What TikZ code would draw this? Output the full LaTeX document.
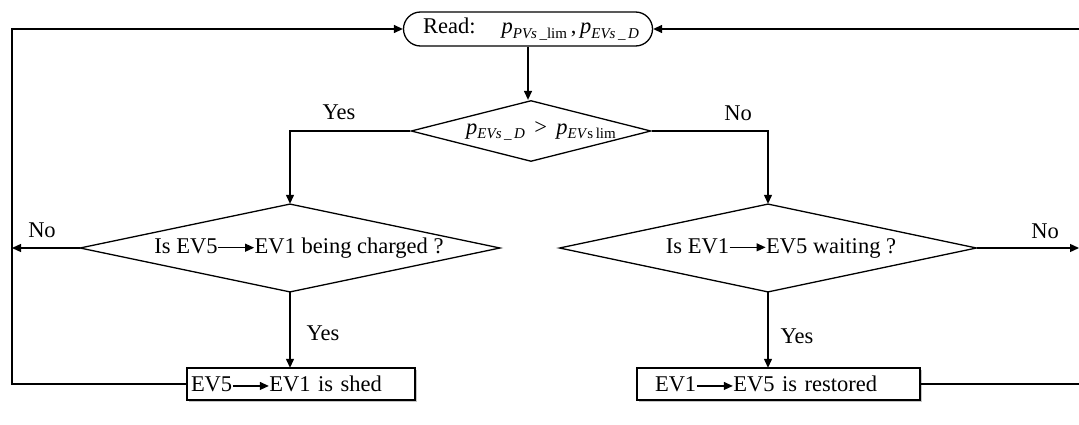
\documentclass[tikz,border=0pt]{standalone}
\usepackage{fontspec}
\setmainfont{Liberation Serif}
\usetikzlibrary{arrows.meta,shapes.geometric,shadows}
\newcommand{\longarr}{\tikz[baseline=-0.55ex]\draw[line width=1.1pt,-{Triangle[length=9pt,width=8pt]}] (0pt,0pt) -- (36pt,0pt);}
\newcommand{\subs}[1]{\raisebox{-0.45ex}{\fontsize{15}{15}\selectfont #1}}
\begin{document}
\begin{tikzpicture}[x=1pt,y=-1pt,
  font=\fontsize{22.5}{25}\selectfont,
  line width=1.3pt,
  arr/.style={-{Triangle[length=9pt,width=8pt]}},
  terminal/.style={draw,rounded corners=17pt,minimum width=249pt,minimum height=34pt,inner sep=0pt},
  decision/.style={draw,diamond,aspect=4.8,inner sep=0pt},
  procbox/.style={draw,fill=white,minimum height=32pt,inner ysep=0pt,align=left,
    drop shadow={shadow xshift=2pt,shadow yshift=-2pt,opacity=0.45}},
  lbl/.style={inner sep=0pt}]
\useasboundingbox (0,0) rectangle (1079,425);
\node[terminal] (read) at (528,29) {\hspace{6pt}Read:\hspace{26pt}\textit{p}\subs{\textit{PVs}\,\_lim}\,,\,\textit{p}\subs{\textit{EVs}\,\_\,\textit{D}}};
\node[decision,minimum width=240pt,minimum height=61pt] (d1) at (531,131)
  {\makebox[0pt]{\hspace{20pt}\textit{p}\subs{\textit{EVs}\,\_\,\textit{D}} \,>\, \textit{p}\subs{\textit{EV}s\,lim}}};
\node[decision,minimum width=420pt,minimum height=88pt] (d2) at (290,248)
  {\makebox[0pt]{\hspace{18pt}Is EV5\longarr EV1 being charged ?}};
\node[decision,minimum width=417pt,minimum height=88pt] (d3) at (768,248)
  {\makebox[0pt]{\hspace{26pt}Is EV1\longarr EV5 waiting ?}};
\node[procbox,minimum width=228pt,text width=220pt,inner xsep=4pt] (b1) at (301,384)
  {EV5\longarr EV1 is shed};
\node[procbox,minimum width=283pt,text width=247pt,inner xsep=18pt] (b2) at (778.5,384)
  {EV1\longarr EV5 is restored};
\coordinate (lft) at (12,248);
\coordinate (rgt) at (1079,248);
\coordinate (rtop) at (1079,29);
\coordinate (rbot) at (1079,384);
\coordinate (ltop) at (12,29);
\coordinate (lbot) at (12,384);
\draw[arr] (read.south) -- (read.south |- d1.north);
\draw[arr] (d1.west) -| (d2.north);
\draw[arr] (d1.east) -| (d3.north);
\draw[arr] (d2.west) -- (lft);
\draw[arr] (d3.east) -- (rgt);
\draw[arr] (d2.south) -- (d2.south |- b1.north);
\draw[arr] (d3.south) -- (d3.south |- b2.north);
\draw[arr] (b1.west) -- (lbot) -- (ltop) -- (read.west);
\draw (b2.east) -- (rbot);
\draw[arr] (rtop) -- (read.east);
\node[lbl] at (339,112) {Yes};
\node[lbl] at (738,113) {No};
\node[lbl] at (42,230) {No};
\node[lbl] at (1045,231) {No};
\node[lbl] at (323,333) {Yes};
\node[lbl] at (797,336) {Yes};
\end{tikzpicture}
\end{document}
